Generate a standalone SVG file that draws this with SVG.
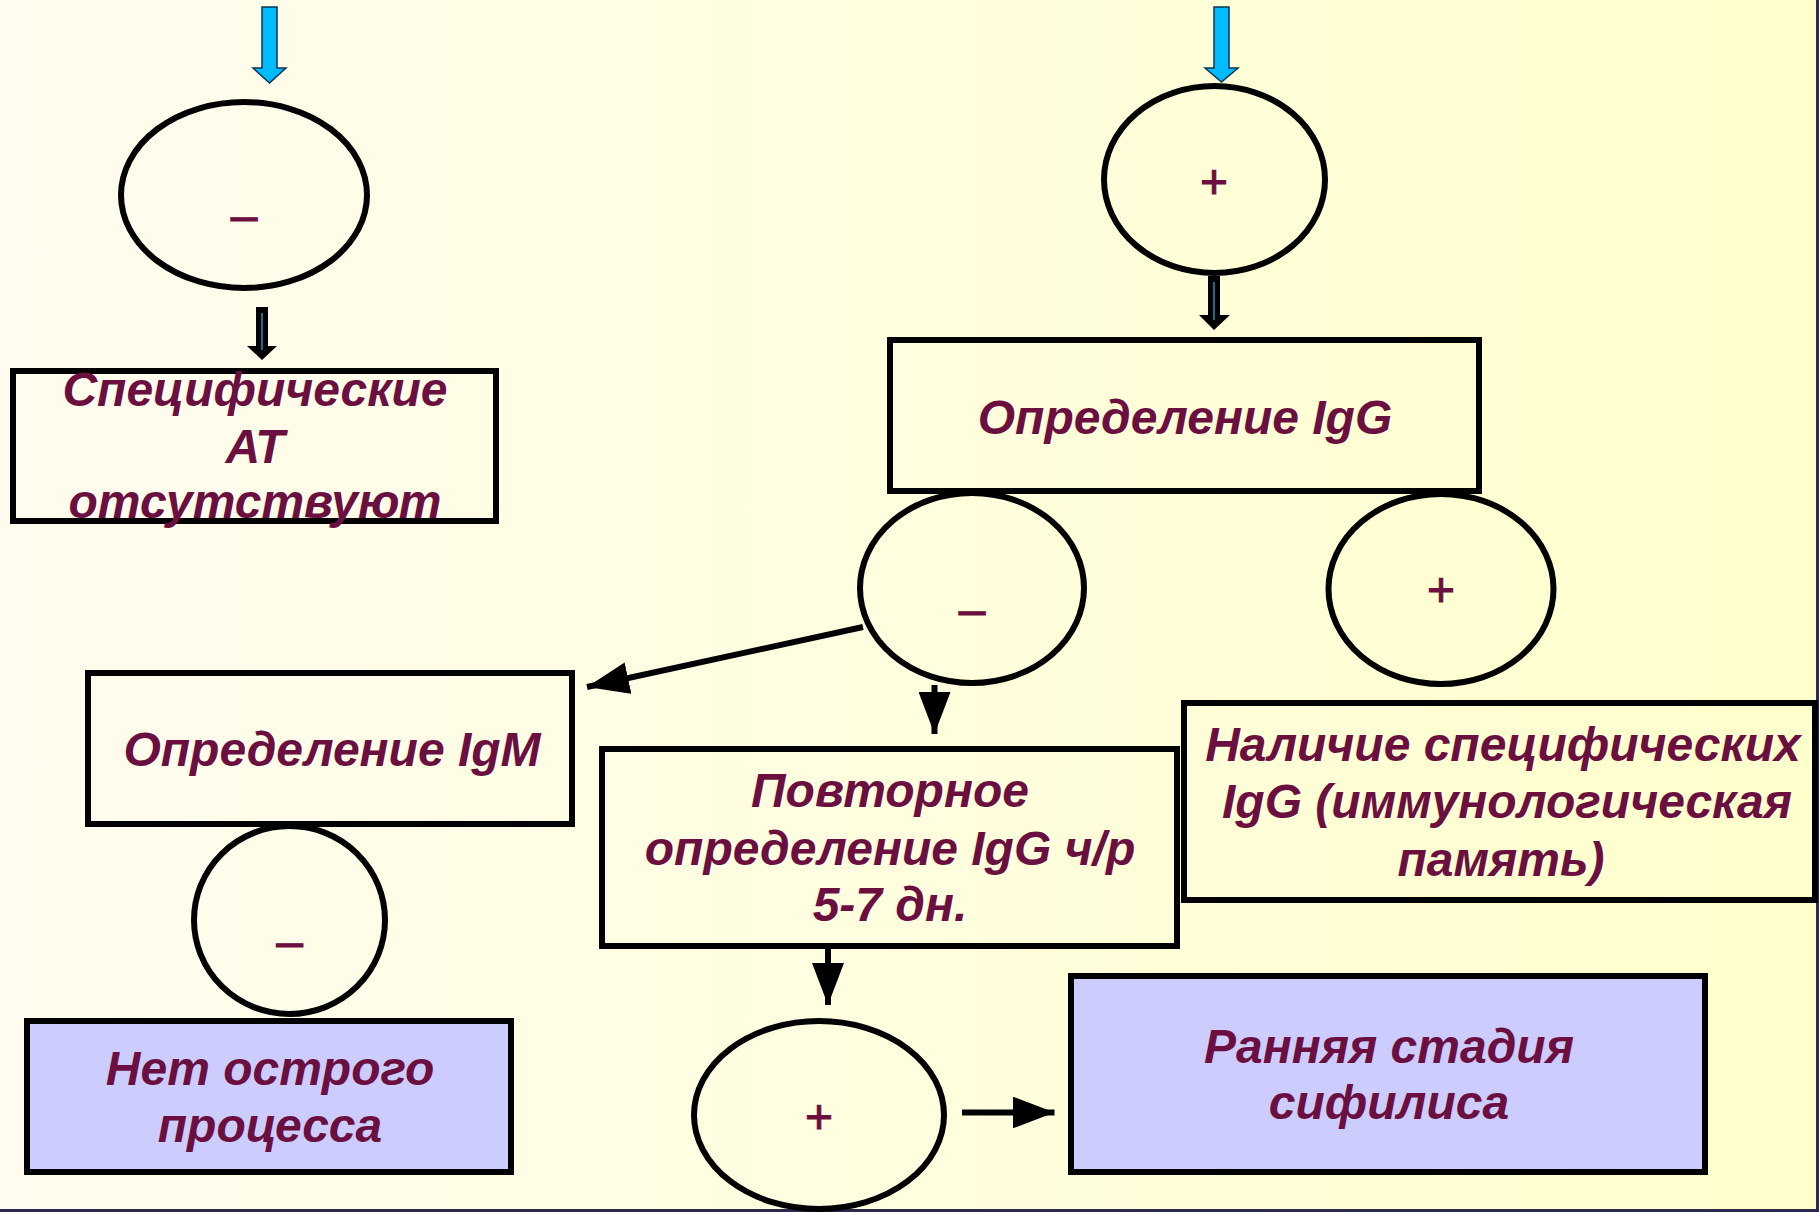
<svg xmlns="http://www.w3.org/2000/svg" width="1819" height="1212" viewBox="0 0 1819 1212">
  <defs>
    <linearGradient id="bg" x1="0" y1="0" x2="1" y2="0">
      <stop offset="0" stop-color="#FFFCEF"/>
      <stop offset="1" stop-color="#FFFFCC"/>
    </linearGradient>
    <marker id="head" markerUnits="userSpaceOnUse" markerWidth="42" markerHeight="32" refX="42" refY="16" orient="auto">
      <path d="M0,0 L42,16 L0,32 Z" fill="#000"/>
    </marker>
    <style>
      .box { fill: none; stroke: #000; stroke-width: 6; }
      .result { fill: #CCCCFF; stroke: #000; stroke-width: 6; }
      .oval { fill: none; stroke: #000; stroke-width: 6; }
      .lbl { font-family: "Liberation Sans", Arial, sans-serif; font-size: 48px; font-weight: bold; font-style: italic; fill: #6B0F40; text-anchor: middle; }
      .sign { font-family: "Liberation Sans", Arial, sans-serif; font-size: 48px; font-weight: normal; fill: #6B0F40; text-anchor: middle; stroke: #6B0F40; stroke-width: 1; }
      .link { stroke: #000; stroke-width: 6; fill: none; marker-end: url(#head); }
      .inflow { fill: #00BBFF; stroke: #0A3550; stroke-width: 1.5; }
      .step { fill: #000; }
      .core { stroke: #1C6A8C; stroke-width: 2; }
    </style>
  </defs>

  <!-- background -->
  <rect x="0" y="0" width="1819" height="1212" fill="url(#bg)"/>
  <rect x="1816" y="0" width="3" height="1212" fill="#2B2B4F"/>
  <rect x="0" y="1209" width="1819" height="3" fill="#2B2B4F"/>

  <!-- left branch -->
  <g id="oval-neg-top">
    <ellipse class="oval" cx="244" cy="195" rx="123" ry="93"/>
    <text class="sign" x="244" y="232">–</text>
  </g>
  <g id="box-no-antibodies">
    <rect class="box" x="13" y="371" width="483" height="150"/>
    <text class="lbl" x="255" y="406">Специфические</text>
    <text class="lbl" x="255" y="463">АТ</text>
    <text class="lbl" x="255" y="518">отсутствуют</text>
  </g>

  <!-- right branch -->
  <g id="oval-pos-top">
    <ellipse class="oval" cx="1214.5" cy="179.5" rx="110.5" ry="93.5"/>
    <text class="sign" x="1214" y="198">+</text>
  </g>
  <g id="box-igg">
    <rect class="box" x="890" y="340" width="589" height="151"/>
    <text class="lbl" x="1185" y="434">Определение IgG</text>
  </g>
  <g id="oval-igg-neg">
    <ellipse class="oval" cx="972" cy="588" rx="112" ry="95"/>
    <text class="sign" x="972" y="626">–</text>
  </g>
  <g id="oval-igg-pos">
    <ellipse class="oval" cx="1441" cy="589" rx="112.5" ry="95"/>
    <text class="sign" x="1441" y="606">+</text>
  </g>
  <g id="box-igm">
    <rect class="box" x="88" y="673" width="484" height="151"/>
    <text class="lbl" x="332" y="766">Определение IgM</text>
  </g>
  <g id="oval-igm-neg">
    <ellipse class="oval" cx="289.5" cy="920" rx="95.5" ry="94"/>
    <text class="sign" x="289.5" y="958">–</text>
  </g>
  <g id="box-no-acute">
    <rect class="result" x="27" y="1021" width="484" height="151"/>
    <text class="lbl" x="270" y="1085">Нет острого</text>
    <text class="lbl" x="270" y="1142">процесса</text>
  </g>
  <g id="box-repeat">
    <rect class="box" x="602" y="749" width="575" height="197"/>
    <text class="lbl" x="890" y="807">Повторное</text>
    <text class="lbl" x="890" y="865">определение IgG ч/р</text>
    <text class="lbl" x="890" y="921">5-7 дн.</text>
  </g>
  <g id="box-memory">
    <rect class="box" x="1184" y="703" width="631" height="197"/>
    <text class="lbl" x="1503" y="761">Наличие специфических</text>
    <text class="lbl" x="1507" y="818">IgG (иммунологическая</text>
    <text class="lbl" x="1501" y="876">память)</text>
  </g>
  <g id="oval-repeat-pos">
    <ellipse class="oval" cx="819" cy="1115" rx="125" ry="94"/>
    <text class="sign" x="819" y="1133">+</text>
  </g>
  <g id="box-early">
    <rect class="result" x="1071" y="976" width="634" height="196"/>
    <text class="lbl" x="1389" y="1063">Ранняя стадия</text>
    <text class="lbl" x="1389" y="1119">сифилиса</text>
  </g>

  <!-- connectors -->
  <g id="connectors">
    <path class="inflow" d="M262,7 H277 V68 H286 L269.5,83 L253,68 H262 Z"/>
    <path class="inflow" d="M1214,7 H1229 V68 H1238 L1221.5,82 L1205,68 H1214 Z"/>
    <path class="step" d="M256,307 H268 V346 H277 L262,360 L247,346 H256 Z"/>
    <line class="core" x1="262" y1="313" x2="262" y2="350"/>
    <path class="step" d="M1208,276 H1220 V315 H1230 L1214,330 L1199,315 H1208 Z"/>
    <line class="core" x1="1214" y1="282" x2="1214" y2="320"/>
    <line class="link" x1="863" y1="627" x2="587" y2="687"/>
    <line class="link" x1="934.5" y1="685" x2="934.5" y2="734"/>
    <line class="link" x1="828" y1="947" x2="828" y2="1005"/>
    <line class="link" x1="962" y1="1112.5" x2="1054.5" y2="1112.5"/>
  </g>
</svg>
